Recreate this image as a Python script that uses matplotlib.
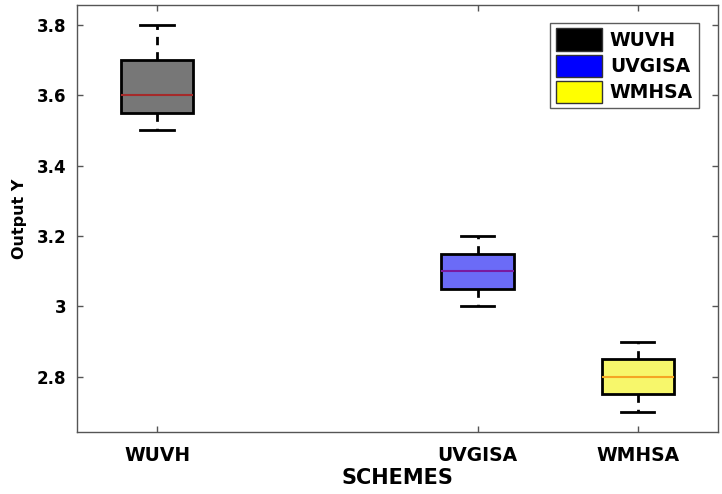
import matplotlib.pyplot as plt
from matplotlib.patches import Patch

schemes = ['WUVH', 'UVGISA', 'WMHSA']
positions = [1, 3, 4]
whisker_low = [3.5, 3.0, 2.7]
q1 = [3.55, 3.05, 2.75]
median = [3.6, 3.1, 2.8]
q3 = [3.7, 3.15, 2.85]
whisker_high = [3.8, 3.2, 2.9]
box_colors = ['#777777', '#6b6bf7', '#f7f76b']
median_colors = ['#a52a2a', '#7a1aa0', '#f5a623']
legend_colors = ['#000000', '#0000ff', '#ffff00']

plt.rcParams['font.family'] = ['DejaVu Sans']
plt.rcParams['font.weight'] = 'bold'

fig, ax = plt.subplots(figsize=(7.22, 4.94), dpi=100)
fig.subplots_adjust(left=0.107, right=0.994, top=0.99, bottom=0.125)

stats = []
for i in range(len(schemes)):
    stats.append({'whislo': whisker_low[i], 'q1': q1[i], 'med': median[i],
                  'q3': q3[i], 'whishi': whisker_high[i], 'fliers': [],
                  'label': schemes[i]})

bp = ax.bxp(stats, positions=positions, widths=0.45, patch_artist=True,
            showfliers=False,
            boxprops=dict(linewidth=2, edgecolor='black'),
            whiskerprops=dict(linewidth=2, linestyle=(0, (3, 2.5)), color='black'),
            capprops=dict(linewidth=2, color='black'),
            capwidths=0.21)
for i, b in enumerate(bp['boxes']):
    b.set_facecolor(box_colors[i])
for i, m in enumerate(bp['medians']):
    m.set_color(median_colors[i])
    m.set_linewidth(1.5)

ax.set_xlim(0.5, 4.5)
ax.set_ylim(2.642, 3.857)
ax.set_yticks([2.8, 3.0, 3.2, 3.4, 3.6, 3.8])
ax.set_yticklabels(['2.8', '3', '3.2', '3.4', '3.6', '3.8'])
ax.set_xticks(positions)
ax.set_xticklabels(schemes)
ax.tick_params(direction='in', length=4, width=1, color='#555555',
               top=True, right=True, pad=8)
ax.tick_params(axis='y', labelsize=12)
ax.tick_params(axis='x', labelsize=13.5, pad=10)
for s in ax.spines.values():
    s.set_color('#555555')
    s.set_linewidth(1)

ax.set_xlabel('SCHEMES', fontsize=15, fontweight='bold', labelpad=2)
ax.set_ylabel('Output Y', fontsize=11.5, fontweight='bold', labelpad=7)

handles = [Patch(facecolor=c, edgecolor='#333333', linewidth=1) for c in legend_colors]
ax.legend(handles, schemes, loc='upper right', bbox_to_anchor=(0.985, 0.98),
          frameon=True, fancybox=False, edgecolor='#333333',
          handlelength=2.5, handleheight=1.45, labelspacing=0.2, borderpad=0.3,
          handletextpad=0.4, prop={'weight': 'bold', 'size': 13.5})

fig.savefig('out.png')
